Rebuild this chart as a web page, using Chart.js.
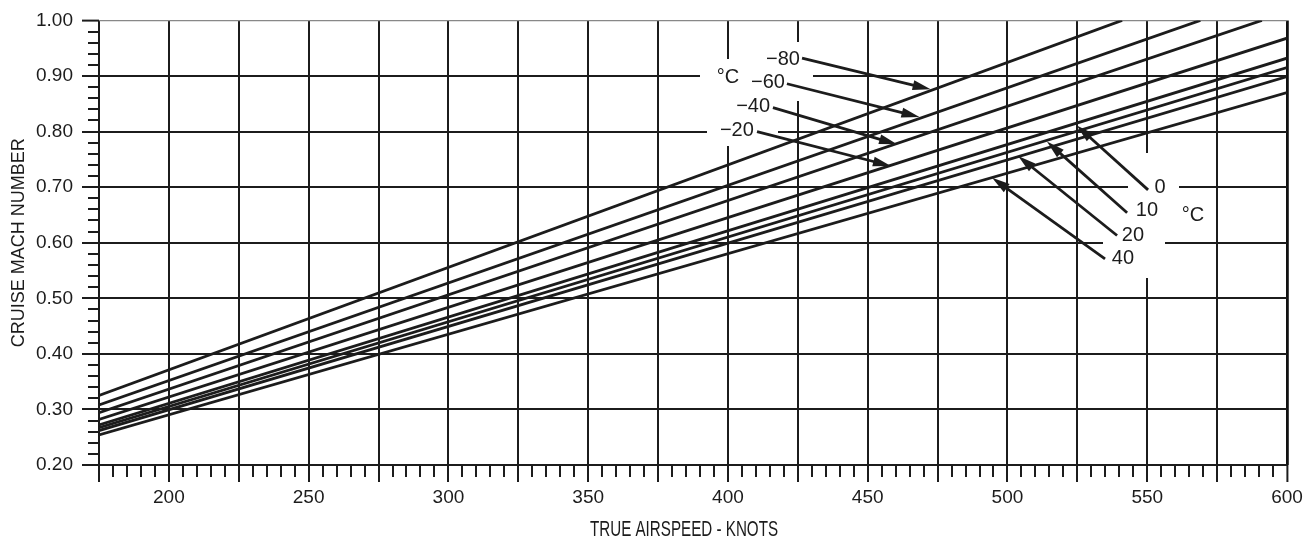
<!DOCTYPE html>
<html>
<head>
<meta charset="utf-8">
<title>Cruise Mach number vs true airspeed</title>
<script src="https://cdn.jsdelivr.net/npm/chart.js@4.4.1/dist/chart.umd.min.js"></script>
<style>
  html, body { margin: 0; padding: 0; background: #fff; }
  #wrap { width: 1315px; height: 541px; position: relative; }
</style>
</head>
<body>
<div id="wrap"><canvas id="machChart"></canvas></div>
<script>
// outside air temperature of each line, deg C
const tempLabels = ['−80', '−60', '−40', '−20', '0', '10', '20', '40'];
// each line is straight: read where it starts and where it ends
const startKnots = [175, 175, 175, 175, 175, 175, 175, 175];
const startMach = [0.325, 0.308, 0.294, 0.282, 0.272, 0.267, 0.262, 0.254];
const endKnots = [541, 569, 591, 600, 600, 600, 600, 600];
const endMach = [1.00, 1.00, 1.00, 0.968, 0.932, 0.915, 0.899, 0.870];

// annotation labels and arrows, in knots / mach
const notes = [
  { text: '°C', x: 400, y: 0.898 },
  { text: '°C', x: 566.4, y: 0.649 },
];
const arrows = [
  { text: '−80', lx: 419.7, ly: 0.930, fx: 426.5, fy: 0.932, tx: 472.5, ty: 0.876 },
  { text: '−60', lx: 414.3, ly: 0.889, fx: 421.1, fy: 0.886, tx: 468.5, ty: 0.826 },
  { text: '−40', lx: 409.0, ly: 0.845, fx: 416.1, fy: 0.843, tx: 460.5, ty: 0.777 },
  { text: '−20', lx: 403.2, ly: 0.802, fx: 410.4, fy: 0.800, tx: 458.3, ty: 0.738 },
  { text: '0', lx: 554.6, ly: 0.699, fx: 550.3, fy: 0.695, tx: 524.8, ty: 0.811 },
  { text: '10', lx: 549.9, ly: 0.658, fx: 542.8, fy: 0.654, tx: 514.1, ty: 0.782 },
  { text: '20', lx: 544.9, ly: 0.613, fx: 539.2, fy: 0.613, tx: 503.8, ty: 0.756 },
  { text: '40', lx: 541.3, ly: 0.571, fx: 534.9, fy: 0.571, tx: 494.5, ty: 0.717 },
];
// white boxes behind the labels: [x1, x2, yTop, yBottom]
const masks = [
  [390.0, 430.4, 0.9305, 0.8557],
  [392.5, 417.9, 0.8600, 0.7737],
  [420.4, 430.4, 0.961, 0.9250],
  [543.1, 561.4, 0.7612, 0.6700],
  [534.2, 556.4, 0.6740, 0.5368],
];

const ink = '#1c1c1c';
const labelFont = '20px "Liberation Sans", Arial, sans-serif';
const xTitle = 'TRUE AIRSPEED - KNOTS';

const overlay = {
  id: 'overlay',
  beforeDatasetsDraw(chart) {
    const { ctx, scales: { x, y } } = chart;
    ctx.save();
    ctx.fillStyle = '#fff';
    masks.forEach(m => {
      const x1 = Math.round(x.getPixelForValue(m[0]));
      const x2 = Math.round(x.getPixelForValue(m[1]));
      const y1 = Math.round(y.getPixelForValue(m[2]));
      const y2 = Math.round(y.getPixelForValue(m[3]));
      ctx.fillRect(x1, y1, x2 - x1, y2 - y1);
    });

    // minor ticks
    ctx.strokeStyle = ink;
    ctx.lineWidth = 2;
    ctx.beginPath();
    for (let k = 180; k < 600; k += 5) {
      if (k % 25 === 0) continue;
      const px = Math.round(x.getPixelForValue(k));
      ctx.moveTo(px, y.bottom);
      ctx.lineTo(px, y.bottom + 12);
    }
    for (let i = 11; i < 50; i++) {
      if (i % 5 === 0) continue;
      const py = Math.round(y.getPixelForValue(i / 50));
      ctx.moveTo(x.left - 11, py);
      ctx.lineTo(x.left, py);
    }
    ctx.stroke();
    ctx.restore();
  },
  afterDatasetsDraw(chart) {
    const { ctx, scales: { x, y } } = chart;
    ctx.save();
    ctx.fillStyle = ink;
    ctx.strokeStyle = ink;
    ctx.font = labelFont;
    ctx.textAlign = 'center';
    ctx.textBaseline = 'middle';

    notes.forEach(n => {
      ctx.fillText(n.text, x.getPixelForValue(n.x), y.getPixelForValue(n.y));
    });

    arrows.forEach(a => {
      ctx.fillText(a.text, x.getPixelForValue(a.lx), y.getPixelForValue(a.ly));
      const x0 = x.getPixelForValue(a.fx), y0 = y.getPixelForValue(a.fy);
      const x1 = x.getPixelForValue(a.tx), y1 = y.getPixelForValue(a.ty);
      const ang = Math.atan2(y1 - y0, x1 - x0);
      const head = 18, half = 5;
      const bx = x1 - head * Math.cos(ang), by = y1 - head * Math.sin(ang);
      ctx.lineWidth = 2.8;
      ctx.beginPath();
      ctx.moveTo(x0, y0);
      ctx.lineTo(bx + 2 * Math.cos(ang), by + 2 * Math.sin(ang));
      ctx.stroke();
      ctx.beginPath();
      ctx.moveTo(x1, y1);
      ctx.lineTo(bx + half * Math.sin(ang), by - half * Math.cos(ang));
      ctx.lineTo(bx - half * Math.sin(ang), by + half * Math.cos(ang));
      ctx.closePath();
      ctx.fill();
    });

    // condensed x axis title
    ctx.font = '22px "Liberation Sans", Arial, sans-serif';
    ctx.translate(684, 530);
    ctx.scale(0.69, 1);
    ctx.fillText(xTitle, 0, 0);
    ctx.restore();
  }
};

const datasets = tempLabels.map((t, i) => ({
  label: t + ' °C',
  data: [
    { x: startKnots[i], y: startMach[i] },
    { x: endKnots[i], y: endMach[i] },
  ],
  borderColor: ink,
  borderWidth: 2.8,
  pointRadius: 0,
  fill: false,
  tension: 0,
}));

const tickFont = { family: '"Liberation Sans", Arial, sans-serif', size: 19 };
const titleFont = { family: '"Liberation Sans", Arial, sans-serif', size: 18 };

new Chart(document.getElementById('machChart'), {
  type: 'line',
  data: { datasets },
  options: {
    responsive: true,
    maintainAspectRatio: false,
    animation: false,
    layout: { padding: { top: 16, right: 28, left: 0, bottom: 0 } },
    plugins: {
      legend: { display: false },
      tooltip: { enabled: false },
    },
    scales: {
      x: {
        type: 'linear',
        min: 175,
        max: 600,
        border: { display: false },
        grid: {
          color: ctx => ctx.tick && ctx.tick.value === 600 ? '#111' : ink,
          lineWidth: ctx => ctx.tick && ctx.tick.value === 600 ? 2.8 : 2,
          tickLength: 17,
          tickColor: ink,
          tickWidth: 2,
        },
        ticks: {
          stepSize: 25,
          autoSkip: false,
          maxRotation: 0,
          padding: 4,
          color: ink,
          font: tickFont,
          callback: v => (v % 50 === 0 ? String(v) : ''),
        },
        title: { display: false },
        afterFit: s => { s.height = 76; },
      },
      y: {
        min: 0.2,
        max: 1.0,
        border: { display: false },
        grid: {
          color: ctx => ctx.tick && Math.abs(ctx.tick.value - 1) < 1e-6 ? '#888' : ink,
          lineWidth: ctx => ctx.tick && Math.abs(ctx.tick.value - 1) < 1e-6 ? 1.2 : 2,
          tickLength: 17,
          tickColor: ink,
          tickWidth: 2,
        },
        ticks: {
          stepSize: 0.1,
          padding: 9,
          color: ink,
          font: tickFont,
          callback: v => Number(v).toFixed(2),
        },
        title: {
          display: true,
          text: 'CRUISE MACH NUMBER',
          color: ink,
          font: titleFont,
          padding: { top: 8, bottom: 0 },
        },
        afterFit: s => { s.width = 99; },
      },
    },
  },
  plugins: [overlay],
});
</script>
</body>
</html>
